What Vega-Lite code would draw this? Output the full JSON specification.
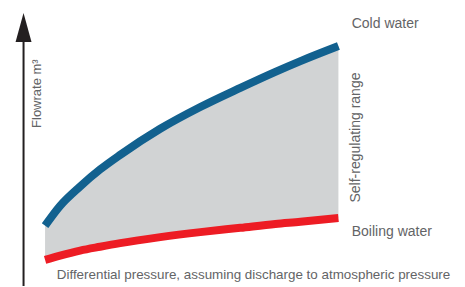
{
  "$schema": "https://vega.github.io/schema/vega-lite/v6.json",
  "width": 465,
  "height": 287,
  "autosize": {"type": "fit", "contains": "padding"},
  "padding": 0,
  "background": "white",
  "config": {"view": {"stroke": null}},
  "datasets": {
    "curves": [
      {"pressure": 0.73, "cold": 2.44, "boiling": 1.01},
      {"pressure": 1.205, "cold": 3.27, "boiling": 1.19},
      {"pressure": 1.838, "cold": 4.08, "boiling": 1.4},
      {"pressure": 2.47, "cold": 4.79, "boiling": 1.56},
      {"pressure": 3.104, "cold": 5.4, "boiling": 1.71},
      {"pressure": 4.369, "cold": 6.49, "boiling": 1.96},
      {"pressure": 5.635, "cold": 7.4, "boiling": 2.17},
      {"pressure": 6.901, "cold": 8.2, "boiling": 2.35},
      {"pressure": 8.008, "cold": 8.87, "boiling": 2.51},
      {"pressure": 8.8, "cold": 9.32, "boiling": 2.6},
      {"pressure": 10.0, "cold": 9.95, "boiling": 2.76}
    ]
  },
  "layer": [
    {
      "data": {"name": "curves"},
      "mark": {"type": "area", "color": "#d1d3d4", "interpolate": "monotone"},
      "encoding": {
        "x": {"field": "pressure", "type": "quantitative", "scale": {"domain": [-0.694, 14.0], "nice": false, "zero": false}, "axis": null},
        "y": {"field": "cold", "type": "quantitative", "scale": {"domain": [-0.083, 11.875], "nice": false, "zero": false}, "axis": null},
        "y2": {"field": "boiling"}
      }
    },
    {
      "data": {"name": "curves"},
      "mark": {"type": "line", "color": "#12618f", "strokeWidth": 8, "interpolate": "monotone", "strokeCap": "butt"},
      "encoding": {
        "x": {"field": "pressure", "type": "quantitative"},
        "y": {"field": "cold", "type": "quantitative"}
      }
    },
    {
      "data": {"name": "curves"},
      "mark": {"type": "line", "color": "#ed1c24", "strokeWidth": 8, "interpolate": "monotone", "strokeCap": "butt"},
      "encoding": {
        "x": {"field": "pressure", "type": "quantitative"},
        "y": {"field": "boiling", "type": "quantitative"}
      }
    },
    {
      "data": {"values": [{}]},
      "mark": {"type": "rule", "color": "#231f20", "strokeWidth": 2},
      "encoding": {
        "x": {"datum": 0.05, "type": "quantitative"},
        "y": {"datum": -0.083, "type": "quantitative"},
        "y2": {"datum": 10.3}
      }
    },
    {
      "data": {"values": [{}]},
      "mark": {"type": "point", "filled": true, "color": "#231f20", "opacity": 1, "shape": "M -0.55 1 L 0 -1 L 0.55 1 Z", "size": 841, "strokeWidth": 0},
      "encoding": {
        "x": {"datum": 0.05, "type": "quantitative"},
        "y": {"datum": 10.73, "type": "quantitative"}
      }
    },
    {
      "data": {"values": [{"label": "Cold water"}]},
      "mark": {"type": "text", "font": "Liberation Sans", "fontSize": 14, "color": "#636466", "align": "left", "baseline": "alphabetic"},
      "encoding": {
        "x": {"datum": 10.42, "type": "quantitative"},
        "y": {"datum": 10.71, "type": "quantitative"},
        "text": {"field": "label"}
      }
    },
    {
      "data": {"values": [{"label": "Boiling water"}]},
      "mark": {"type": "text", "font": "Liberation Sans", "fontSize": 14, "color": "#636466", "align": "left", "baseline": "alphabetic"},
      "encoding": {
        "x": {"datum": 10.42, "type": "quantitative"},
        "y": {"datum": 2.0, "type": "quantitative"},
        "text": {"field": "label"}
      }
    },
    {
      "data": {"values": [{"label": "Differential pressure, assuming discharge to atmospheric pressure"}]},
      "mark": {"type": "text", "font": "Liberation Sans", "fontSize": 13.4, "color": "#636466", "align": "left", "baseline": "alphabetic"},
      "encoding": {
        "x": {"datum": 1.1, "type": "quantitative"},
        "y": {"datum": 0.208, "type": "quantitative"},
        "text": {"field": "label"}
      }
    },
    {
      "data": {"values": [{"label": "Self-regulating range"}]},
      "mark": {"type": "text", "font": "Liberation Sans", "fontSize": 14, "color": "#636466", "align": "center", "baseline": "middle", "angle": 270},
      "encoding": {
        "x": {"datum": 10.57, "type": "quantitative"},
        "y": {"datum": 6.125, "type": "quantitative"},
        "text": {"field": "label"}
      }
    },
    {
      "data": {"values": [{"label": "Flowrate m³"}]},
      "mark": {"type": "text", "font": "Liberation Sans", "fontSize": 13, "color": "#636466", "align": "center", "baseline": "middle", "angle": 270},
      "encoding": {
        "x": {"datum": 0.48, "type": "quantitative"},
        "y": {"datum": 7.96, "type": "quantitative"},
        "text": {"field": "label"}
      }
    }
  ]
}
